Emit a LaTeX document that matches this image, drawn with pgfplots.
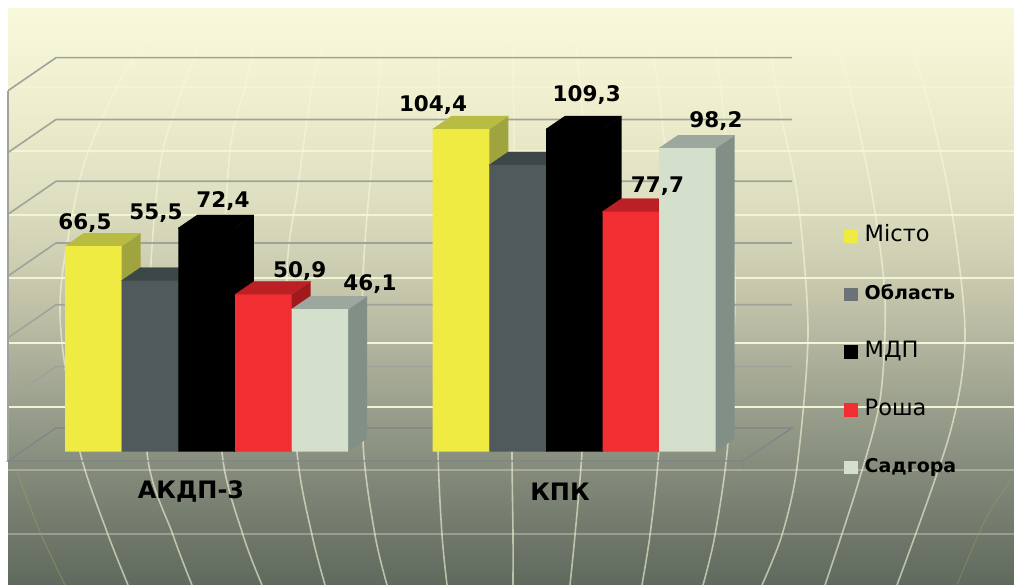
\documentclass[border=0pt]{standalone}
\usepackage{pgfplots}
\pgfplotsset{compat=1.18}
\usepackage{fontspec}
\setmainfont{DejaVu Sans}
\definecolor{g0}{HTML}{5F695D}
\definecolor{g1}{HTML}{848B7B}
\definecolor{g2}{HTML}{9DA28F}
\definecolor{g3}{HTML}{C6C6AC}
\definecolor{g4}{HTML}{DEDFC0}
\definecolor{g5}{HTML}{EFEFCF}
\definecolor{g6}{HTML}{F8F8DC}
\pgfdeclareverticalshading{panel}{100bp}{color(0bp)=(g0);color(25bp)=(g0);color(34.98bp)=(g1);color(41.06bp)=(g2);color(50.6bp)=(g3);color(58.4bp)=(g4);color(67.1bp)=(g5);color(75bp)=(g6);color(100bp)=(g6)}
\definecolor{yF}{HTML}{F0EB42}\definecolor{yT}{HTML}{B9BC42}\definecolor{yS}{HTML}{A0A43E}
\definecolor{oF}{HTML}{50595B}\definecolor{oT}{HTML}{3C4748}\definecolor{oL}{HTML}{6B7378}
\definecolor{kF}{HTML}{000000}
\definecolor{rF}{HTML}{F12E31}\definecolor{rT}{HTML}{BC2024}\definecolor{rS}{HTML}{A0191C}
\definecolor{sF}{HTML}{D4DFCC}\definecolor{sT}{HTML}{9CA79E}\definecolor{sS}{HTML}{828F87}
\definecolor{gridc}{HTML}{A0A39A}
\definecolor{floorc}{HTML}{7E858C}
\definecolor{cream}{HTML}{F8F8DA}
% depth of a bar: 19 px across, 13 px up (13/3.09 = 4.207 units)
% each face runs a little under the front face, which is drawn after it
\newcommand{\faces}[4]{% left x, value, top colour, side colour
  \pgfmathsetmacro{\xa}{#1+56.6}\pgfmathsetmacro{\xb}{#1+75.6}\pgfmathsetmacro{\xc}{#1+19}
  \pgfmathsetmacro{\xd}{#1+55.6}\pgfmathsetmacro{\ya}{#2+4.207}\pgfmathsetmacro{\yb}{#2-0.4}
  \pgfmathsetmacro{\xe}{#1+0.6}
  \addplot[forget plot,fill=#4,draw=none] coordinates {(\xd,0)(\xa,0)(\xb,4.207)(\xb,\ya)(\xa,#2)(\xd,#2)} --cycle;
  \addplot[forget plot,fill=#3,draw=#3,line width=.3pt] coordinates {(\xe,\yb)(#1,#2)(\xc,\ya)(\xb,\ya)(\xa,#2)(\xa,\yb)} --cycle;
}
\pgfplotsset{px/.style={ybar,bar shift=0pt,bar width=56.6pt,draw=none,fill=#1}}
\begin{document}
\begin{tikzpicture}
\useasboundingbox (0,0) rectangle (1014pt,585pt);
\begin{scope}[x=1pt,y=-1pt,yshift=585pt]
  \shade[shading=panel] (8,9) rectangle (1014,585);
  \begin{scope}
  \clip (8,9) rectangle (1014,585);
  % horizontal light bands
  \foreach \yy/\op in {23/.25,44/.3,87/.5,151/.8,215/.85,278/.9,343/.95,407/.95}
    \draw[cream,opacity=\op,line width=1.8pt] (8,\yy) -- (1014,\yy);
  \foreach \yy in {470,534}
    \draw[cream,opacity=.3,line width=1.5pt] (8,\yy) -- (1014,\yy);
  % globe meridians
  \foreach \c in {
    {(150,30)(117,87)(83,167)(62,277)(62,343)(80,452)(107,532)(128,585)},
    {(200,43)(163,150)(150,280)(147,452)(173,535)(192,585)},
    {(257,33)(245,87)(230,150)(222,300)(222,452)(243,535)(262,585)},
    {(325,40)(312,87)(298,187)(287,277)(297,452)(312,535)(325,585)},
    {(382,50)(373,150)(363,277)(363,442)(375,535)(387,585)},
    {(440,40)(438,150)(436,300)(438,452)(442,535)(447,585)},
    {(512,30)(514,150)(512,300)(512,452)(513,535)(513,585)},
    {(575,30)(585,150)(590,300)(582,452)(575,535)(570,585)},
    {(650,30)(665,150)(670,300)(658,462)(650,535)(642,585)},
    {(715,40)(725,130)(735,285)(728,442)(715,535)(703,585)},
    {(770,50)(782,120)(798,200)(808,333)(797,467)(782,535)(762,585)},
    {(830,20)(850,90)(873,200)(885,300)(880,400)(857,487)(825,585)},
    {(900,20)(925,90)(950,200)(965,333)(950,433)(897,585)}}
  { \draw[cream,opacity=.6,line width=1.6pt] plot[smooth] coordinates \c; }
  \draw[yT!50!g1,opacity=.5,line width=1pt] plot[smooth] coordinates {(17,472)(40,532)(65,585)};
  \draw[yT!50!g1,opacity=.4,line width=1pt] plot[smooth] coordinates {(1013,477)(985,520)(957,585)};
  \end{scope}
  % walls and floor
  \foreach \yy in {57.7,119.5,181.3,243,304.8,366.6}{
    \draw[gridc,line width=1.6pt] (8,\yy+33) -- (56,\yy) -- (792,\yy);
  }
  \draw[gridc,line width=1.6pt] (8,91) -- (8,461);
  \draw[floorc,line width=1.2pt] (8,461) -- (56,428) -- (792,428) -- (743,461) -- cycle;
  \draw[floorc,line width=1pt] (743,461) -- (743,469);
\end{scope}
\begin{axis}[
  at={(0,0)},anchor=south west,scale only axis,width=1014pt,height=585pt,
  xmin=0,xmax=1014,ymin=-43.14,ymax=146.18,clip=false,
  axis line style={draw=none},tick style={draw=none},ytick=\empty,
  xtick={191,560},xticklabels={АКДП-3,КПК},
  xticklabel style={anchor=center,yshift=93.3pt,font=\fontsize{24}{28}\bfseries},
  legend style={at={(axis cs:844,73.5)},anchor=north west,draw=none,fill=none,inner sep=0pt,
    row sep=36.75pt,nodes={inner sep=0pt,text height=17pt,text depth=4pt,anchor=base west},column sep=7pt},
  legend cell align=left,
  legend image code/.code={\fill[#1,draw=none] (0,-1.5pt) rectangle (13.5pt,12pt);},
]
% yellow: Місто
\faces{65}{66.5}{yT}{yS}
\faces{432.7}{104.4}{yT}{yS}
\addplot[px=yF] coordinates {(93.3,66.5)(461,104.4)};
\addlegendentry{\fontsize{22.5}{26}\selectfont Місто}
% grey: Область (the second value has no printed label)
\faces{121.7}{55.4}{oT}{oT}
\faces{489.3}{92.8}{oT}{oT}
\addplot[px=oF,legend image code/.code={\fill[oL,draw=none] (0,-1.5pt) rectangle (13.5pt,12pt);}] coordinates {(150,55.4)(517.6,92.8)};
\addlegendentry{\fontsize{19}{26}\selectfont\bfseries Область}
% black: МДП (printed 109,3 for КПК, drawn at the height of 104,4)
\faces{178.3}{72.4}{kF}{kF}
\faces{546}{104.4}{kF}{kF}
\addplot[px=kF] coordinates {(206.6,72.4)(574.3,104.4)};
\addlegendentry{\fontsize{22.5}{26}\selectfont МДП}
% red: Роша
\faces{235}{50.9}{rT}{rS}
\faces{602.5}{77.7}{rT}{rS}
\addplot[px=rF] coordinates {(263.3,50.9)(630.8,77.7)};
\addlegendentry{\fontsize{22.5}{26}\selectfont Роша}
% pale: Садгора
\faces{291.5}{46.1}{sT}{sS}
\faces{659}{98.2}{sT}{sS}
\addplot[px=sF] coordinates {(319.8,46.1)(687.3,98.2)};
\addlegendentry{\fontsize{19}{26}\selectfont\bfseries Садгора}
\end{axis}
\begin{scope}[x=1pt,y=-1pt,yshift=585pt]
  \foreach \xx/\yy/\t in {85/229.5/{66,5},156/219.5/{55,5},223/207.5/{72,4},299.7/278/{50,9},370/290.5/{46,1},433/112/{104,4},586.7/101.5/{109,3},657.5/193/{77,7},716/127.5/{98,2}}
    \node[anchor=base,inner sep=0pt,font=\fontsize{21.5}{25}\bfseries] at (\xx,\yy) {\t};
\end{scope}
\end{tikzpicture}
\end{document}
